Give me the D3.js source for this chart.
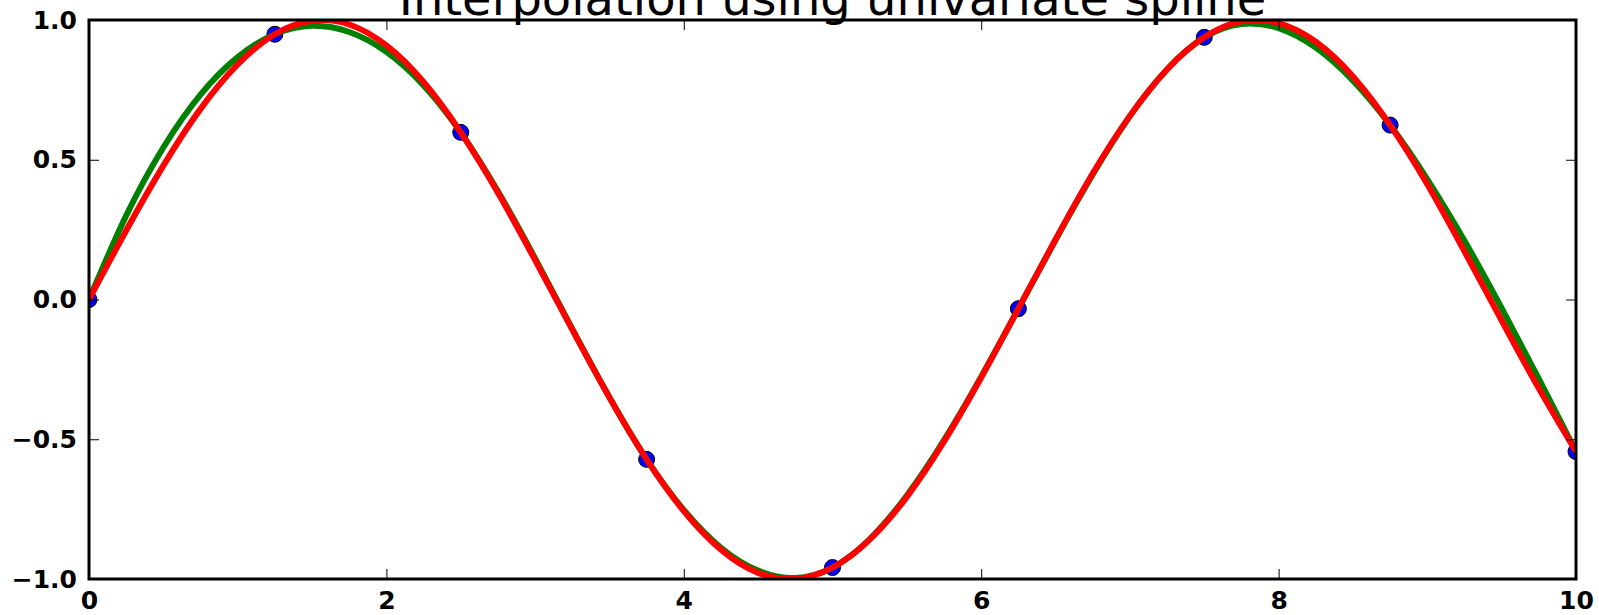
<!DOCTYPE html>
<html>
<head>
<meta charset="utf-8">
<script src="https://cdn.jsdelivr.net/npm/d3@7"></script>
<style>
  body { margin: 0; background: #fff; }
  svg { display: block; }
  svg text { font-family: "DejaVu Sans", sans-serif; }
</style>
</head>
<body>
<svg id="chart" width="1599" height="615"></svg>
<script>
// data points (blue markers)
const sampleX = [0, 1.25, 2.5, 3.75, 5, 6.25, 7.5, 8.75, 10];
const sampleY = [0, 0.949, 0.598, -0.572, -0.959, -0.033, 0.938, 0.624, -0.544];

// both curves every 0.25
const curveX = d3.range(0, 10.001, 0.25);
// green: spline through the markers
const splineY = [0.000, 0.300, 0.544, 0.733, 0.867, 0.949, 0.979, 0.957, 0.886, 0.766,
  0.598, 0.387, 0.147, -0.105, -0.350, -0.572, -0.753, -0.888, -0.970, -0.996,
  -0.959, -0.857, -0.701, -0.503, -0.276, -0.033, 0.213, 0.447, 0.656, 0.824,
  0.938, 0.986, 0.971, 0.901, 0.783, 0.624, 0.430, 0.210, -0.031, -0.284, -0.544];
// red: underlying curve
const trueY = [0.000, 0.247, 0.479, 0.682, 0.841, 0.949, 0.997, 0.984, 0.909, 0.778,
  0.598, 0.382, 0.141, -0.108, -0.351, -0.572, -0.757, -0.895, -0.978, -0.999,
  -0.959, -0.859, -0.706, -0.508, -0.279, -0.033, 0.215, 0.451, 0.657, 0.823,
  0.938, 0.995, 0.989, 0.922, 0.798, 0.624, 0.412, 0.172, -0.075, -0.318, -0.544];

const xTicks = [0, 2, 4, 6, 8, 10];
const yTicks = [-1, -0.5, 0, 0.5, 1];
const title = "Interpolation using univariate spline";

const W = 1599, H = 615;
const margin = { top: 20, right: 23, bottom: 36, left: 89 };
const iw = W - margin.left - margin.right;
const ih = H - margin.top - margin.bottom;

const svg = d3.select("#chart");
const g = svg.append("g").attr("transform", `translate(${margin.left},${margin.top})`);

const x = d3.scaleLinear().domain([0, 10]).range([0, iw]);
const y = d3.scaleLinear().domain([-1, 1]).range([ih, 0]);

svg.append("defs").append("clipPath").attr("id", "clip")
  .append("rect").attr("width", iw).attr("height", ih);

const plot = g.append("g").attr("clip-path", "url(#clip)");

const samples = sampleX.map((v, i) => ({ x: v, y: sampleY[i] }));
const spline = curveX.map((v, i) => ({ x: v, y: splineY[i] }));
const truth = curveX.map((v, i) => ({ x: v, y: trueY[i] }));

plot.selectAll("circle").data(samples).enter().append("circle")
  .attr("cx", d => x(d.x))
  .attr("cy", d => y(d.y))
  .attr("r", 8)
  .attr("fill", "#0000ff")
  .attr("stroke", "#000")
  .attr("stroke-width", 1);

const line = d3.line().x(d => x(d.x)).y(d => y(d.y)).curve(d3.curveNatural);

plot.append("path").datum(spline)
  .attr("d", line)
  .attr("fill", "none")
  .attr("stroke", "#008000")
  .attr("stroke-width", 6);

plot.append("path").datum(truth)
  .attr("d", line)
  .attr("fill", "none")
  .attr("stroke", "#ff0000")
  .attr("stroke-width", 6);

function styleAxis(sel, labels) {
  sel.attr("font-family", null).attr("font-size", null);
  sel.select(".domain").remove();
  sel.selectAll(".tick line").attr("stroke", "#000").attr("stroke-width", 1);
  sel.selectAll(".tick text")
    .attr("fill", "#000")
    .style("font-family", "'DejaVu Sans', sans-serif")
    .style("font-size", "25px")
    .style("font-weight", "bold")
    .style("display", labels ? null : "none");
}

g.append("g").attr("transform", `translate(0,${ih})`)
  .call(d3.axisBottom(x).tickValues(xTicks).tickSize(-10).tickPadding(12).tickFormat(d3.format("d")))
  .call(s => styleAxis(s, true));
g.append("g")
  .call(d3.axisTop(x).tickValues(xTicks).tickSize(-10).tickFormat(""))
  .call(s => styleAxis(s, false));
g.append("g")
  .call(d3.axisLeft(y).tickValues(yTicks).tickSize(-10).tickPadding(12).tickFormat(d3.format(".1f")))
  .call(s => styleAxis(s, true));
g.append("g").attr("transform", `translate(${iw},0)`)
  .call(d3.axisRight(y).tickValues(yTicks).tickSize(-10).tickFormat(""))
  .call(s => styleAxis(s, false));

g.append("rect")
  .attr("width", iw).attr("height", ih)
  .attr("fill", "none").attr("stroke", "#000").attr("stroke-width", 3);

svg.append("text")
  .attr("x", margin.left + iw / 2)
  .attr("y", 15)
  .attr("text-anchor", "middle")
  .style("font-size", "48px")
  .attr("fill", "#000")
  .text(title);
</script>
</body>
</html>
